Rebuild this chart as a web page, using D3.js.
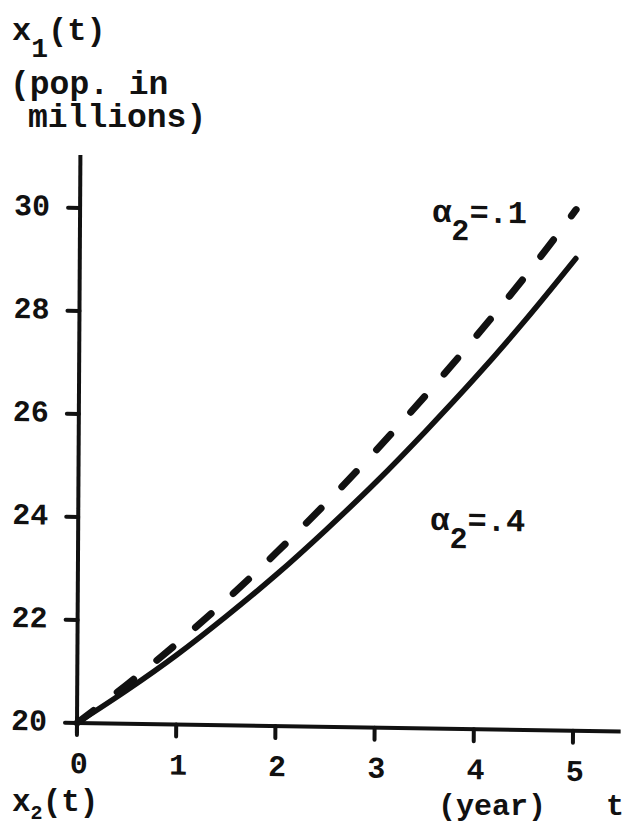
<!DOCTYPE html>
<html>
<head>
<meta charset="utf-8">
<script src="https://cdn.jsdelivr.net/npm/d3@7"></script>
<style>
  html, body { margin: 0; padding: 0; background: #fff; }
  svg { display: block; }
  text { font-family: "Liberation Mono", "Courier New", monospace; font-weight: bold; fill: #111; }
</style>
</head>
<body>
<svg id="chart" width="629" height="825"></svg>
<script>
// Time in years
const years = [0, 0.5, 1, 1.5, 2, 2.5, 3, 3.5, 4, 4.5, 5];
// Population x1(t) in millions, alpha2 = .1 (dashed)
const popAlpha1 = [20, 20.76, 21.57, 22.44, 23.37, 24.35, 25.39, 26.48, 27.63, 28.83, 30.12];
// Population x1(t) in millions, alpha2 = .4 (solid)
const popAlpha4 = [20, 20.65, 21.35, 22.12, 22.94, 23.83, 24.77, 25.78, 26.84, 27.97, 29.17];
const xTicks = [0, 1, 2, 3, 4, 5];
const yTicks = [20, 22, 24, 26, 28, 30];

const svg = d3.select("#chart");

// Plot frame: origin of the axes, with a slight tilt of the drawn sheet
const g = svg.append("g")
  .attr("transform", "translate(77,723) matrix(1,0.0157,-0.006,1,0,0)");

const x = d3.scaleLinear().domain([0, 5]).range([0, 496]);
const y = d3.scaleLinear().domain([20, 30]).range([0, -515]);

// Axis lines
g.append("line")
  .attr("x1", x(0)).attr("y1", y(20))
  .attr("x2", x(5.48)).attr("y2", y(20))
  .attr("stroke", "#111").attr("stroke-width", 4);
g.append("line")
  .attr("x1", x(0)).attr("y1", y(19.8))
  .attr("x2", x(0)).attr("y2", y(31.03))
  .attr("stroke", "#111").attr("stroke-width", 4);

// Y ticks and labels
const yt = g.selectAll(".yt").data(yTicks).enter().append("g")
  .attr("transform", d => `translate(0,${y(d)})`);
yt.append("line").attr("x1", -12).attr("x2", 0)
  .attr("stroke", "#111").attr("stroke-width", 4).attr("stroke-linecap", "round");
yt.append("text").attr("x", -30).attr("y", 8)
  .attr("text-anchor", "end").attr("font-size", 30).text(d => d);

// X ticks and labels
const xt = g.selectAll(".xt").data(xTicks).enter().append("g")
  .attr("transform", d => `translate(${x(d)},0)`);
xt.append("line").attr("y1", 0).attr("y2", 12)
  .attr("stroke", "#111").attr("stroke-width", 4).attr("stroke-linecap", "round");
xt.append("text").attr("x", 2).attr("y", 50)
  .attr("text-anchor", "middle").attr("font-size", 30).text(d => d);

// Curves
const line = d3.line()
  .x((d, i) => x(years[i]))
  .y(d => y(d))
  .curve(d3.curveMonotoneX);

g.append("path").datum(popAlpha4)
  .attr("d", line)
  .attr("fill", "none").attr("stroke", "#111")
  .attr("stroke-width", 5.5).attr("stroke-linecap", "round");

g.append("path").datum(popAlpha1)
  .attr("d", line)
  .attr("fill", "none").attr("stroke", "#111")
  .attr("stroke-width", 7).attr("stroke-linecap", "round")
  .attr("stroke-dasharray", "21,30");

// Curve labels
function alphaLabel(t, v, tail) {
  const txt = g.append("text")
    .attr("x", x(t)).attr("y", y(v))
    .attr("font-size", 32);
  txt.append("tspan").text("α");
  txt.append("tspan").attr("dy", 18).attr("font-size", 30).text("2");
  txt.append("tspan").attr("dy", -18).text(tail);
}
alphaLabel(3.55, 29.84, "=.1");
alphaLabel(3.55, 23.86, "=.4");

// Axis titles
const titles = svg.append("g");
const t1 = titles.append("text").attr("x", 12).attr("y", 40).attr("font-size", 32);
t1.append("tspan").text("x");
t1.append("tspan").attr("dy", 17).attr("font-size", 28).text("1");
t1.append("tspan").attr("dy", -17).text("(t)");
titles.append("text").attr("x", 10).attr("y", 94).attr("font-size", 33).text("(pop. in");
titles.append("text").attr("x", 28).attr("y", 127).attr("font-size", 33).text("millions)");

const t2 = titles.append("text").attr("x", 12).attr("y", 811).attr("font-size", 31);
t2.append("tspan").text("x");
t2.append("tspan").attr("dy", 8).attr("font-size", 20).text("2");
t2.append("tspan").attr("dy", -8).text("(t)");
titles.append("text").attr("x", 438).attr("y", 815).attr("font-size", 30).text("(year)");
titles.append("text").attr("x", 606).attr("y", 815).attr("font-size", 30).text("t");
</script>
</body>
</html>
